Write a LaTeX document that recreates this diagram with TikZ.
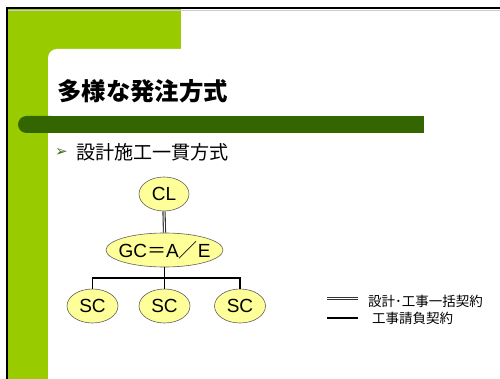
\documentclass[tikz,border=0pt]{standalone}
\usepackage{fontspec}
\setmainfont{Liberation Sans}
\newfontfamily\cjk{Noto Sans CJK JP}
\newfontfamily\dejavu{DejaVu Sans}
\usetikzlibrary{shapes.geometric}
\definecolor{lightgreen}{HTML}{99CC00}
\definecolor{darkgreen}{HTML}{336600}
\definecolor{bulletgreen}{HTML}{3F6A10}
\definecolor{ellfill}{HTML}{FFFF99}
\definecolor{ellline}{HTML}{606060}
\tikzset{
  party/.style={ellipse, draw=ellline, line width=0.6pt, fill=ellfill, inner sep=0pt,
    minimum height=34pt, font=\fontsize{19}{22}\selectfont},
  twoline/.style={draw=black!80, double=white, double distance=1pt, line width=1.1pt},
  oneline/.style={draw=black, line width=1.8pt},
}
\begin{document}
\begin{tikzpicture}[x=1pt,y=-1pt]
\path[use as bounding box] (0,0) rectangle (500,379);
\clip (0,0) rectangle (500,379);
\fill[white] (0,0) rectangle (500,379);
% background frame
\fill[lightgreen] (7,9) rectangle (181,60);
\fill[lightgreen] (7,9) rectangle (48,379);
\fill[white, rounded corners=9pt] (48,49) rectangle (560,440);
\draw[black!20, line width=1pt] (7,10.5) -- (500,10.5);
\draw[black, line width=2pt] (6,8) -- (500,8);
\draw[black, line width=2pt] (6.5,7) -- (6.5,379);
% dark green bar
\fill[darkgreen, rounded corners=8.5pt] (18,116) rectangle (60,133);
\fill[darkgreen] (40,116) rectangle (424,133);
% title
\node[anchor=west, inner sep=0pt, font=\cjk\bfseries\fontsize{24.4}{29}\selectfont] (title) at (57,91) {多様な発注方式};
% bullet
\node[anchor=west, inner sep=0pt, text=bulletgreen, font=\dejavu\fontsize{15}{17}\selectfont] (bullet) at (55,153) {➢};
\node[anchor=west, inner sep=0pt, font=\cjk\fontsize{19.1}{23}\selectfont] (sub) at (76,152) {設計施工一貫方式};
% diagram
\node[party, minimum width=50pt] (cl) at (164,194) {CL};
\node[party, minimum width=117pt, inner xsep=-6pt] (gc) at (164.5,250) {GC{\cjk ＝}A{\cjk ／}E};
\node[party, minimum width=51pt] (sc1) at (92.5,306) {SC};
\node[party, minimum width=51pt] (sc2) at (164.5,306) {SC};
\node[party, minimum width=51pt] (sc3) at (240,306) {SC};
\draw[twoline] (cl.south) -- (gc.north);
\coordinate (j) at (164.5,278);
\draw[oneline] (gc.south) -- (j);
\draw[oneline] (sc1.north) -- (sc1.north |- j) -- (sc3.north |- j) -- (sc3.north);
\draw[oneline] (sc2.north) -- (j);
% legend
\coordinate (l1a) at (327,298.5);
\coordinate (l1b) at (358,298.5);
\coordinate (l2a) at (327,318);
\coordinate (l2b) at (358,318);
\draw[twoline] (l1a) -- (l1b);
\draw[oneline, line width=1.5pt] (l2a) -- (l2b);
\node[anchor=west, inner sep=0pt, font=\cjk\fontsize{13.5}{16}\selectfont] (leg1) at (368,301) {設計･工事一括契約};
\node[anchor=west, inner sep=0pt, font=\cjk\fontsize{13.5}{16}\selectfont] (leg2) at (372,318) {工事請負契約};
\end{tikzpicture}
\end{document}
